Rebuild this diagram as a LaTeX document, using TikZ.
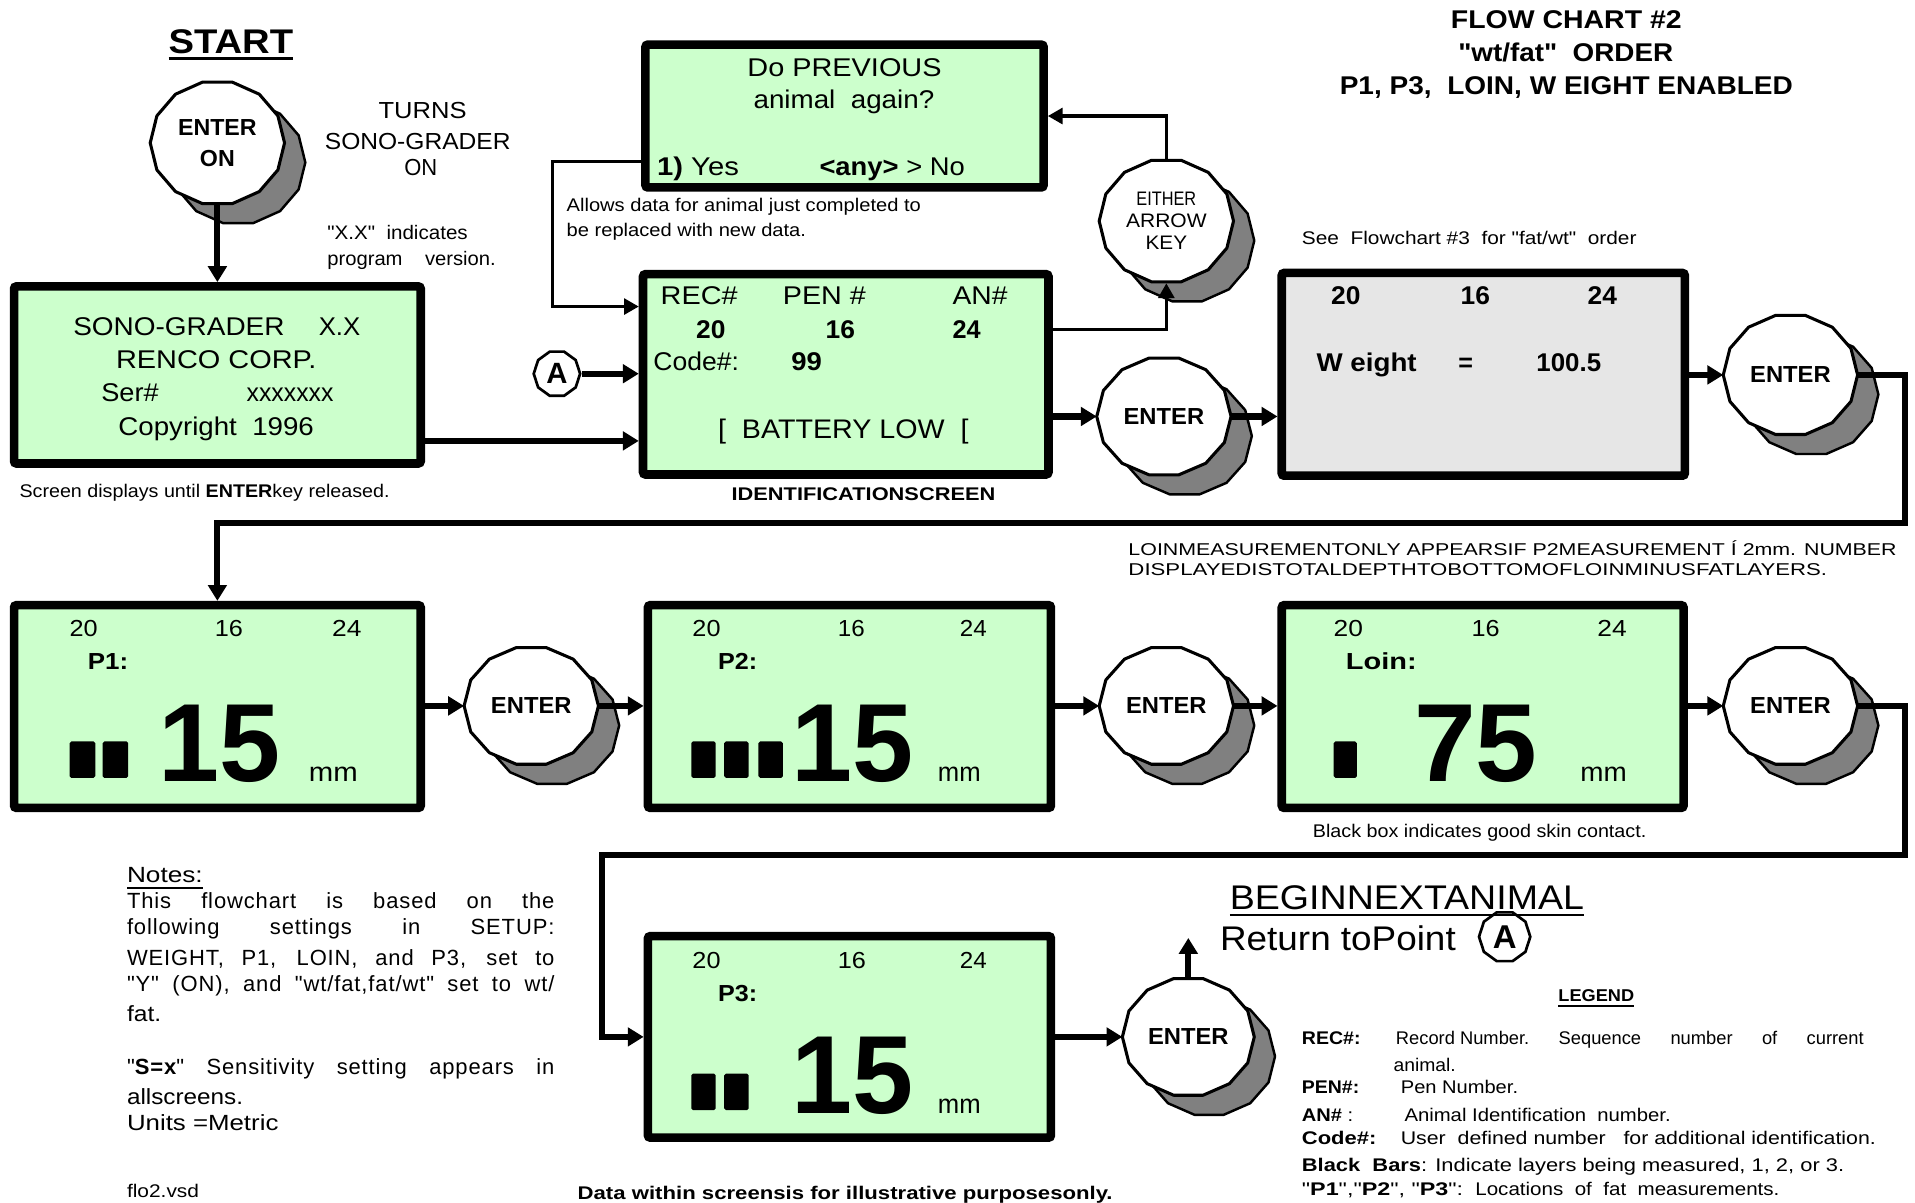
\documentclass[tikz,border=0pt]{standalone}
\usepackage{fontspec}
\setmainfont{Liberation Sans}[Ligatures=TeXOff]
\usepackage{graphicx}
\usetikzlibrary{shapes.geometric,arrows.meta}
\definecolor{scr}{HTML}{CCFFCC}
\definecolor{wgt}{HTML}{E6E6E6}
\definecolor{shad}{HTML}{808080}
\newsavebox\fitbox
\newcommand\fitx[2]{\sbox\fitbox{#2}\pgfmathsetmacro\fitr{#1/\the\wd\fitbox}\scalebox{\fitr}[1]{\usebox\fitbox}}
\newcommand\fs[1]{\fontsize{#1}{#1}\selectfont}
\tikzset{
 tx/.style={anchor=base west, inner sep=0pt, outer sep=0pt},
 screen/.style={draw=black, line width=7pt, rounded corners=2pt, inner sep=0pt, outer sep=3.5pt},
 flow/.style={line width=5pt, -{Triangle[length=13pt,width=15pt]}},
 thinflow/.style={line width=2.5pt, -{Triangle[length=12pt,width=13pt]}},
 btnst/.style={fill=white, draw=black, line width=2.5pt, line join=round},
 shadst/.style={fill=shad, draw=black, line width=2pt, line join=round},
 marker/.style={regular polygon, regular polygon sides=10, draw, line width=2.2pt, fill=white, inner sep=0pt},
 bar/.style={fill=black, rounded corners=1.5pt},
 uline/.style={line width=2pt},
}
\newcommand\tw[6]{\node[tx] (#1) at (#2,#3) {\fs{#5}\fitx{#4}{#6}};}
\newcommand\tj[6]{\node[tx] (#1) at (#2,#3) {\fs{#5}\makebox[#4pt][s]{#6}};}
\newcommand\tn[5]{\node[tx] (#1) at (#2,#3) {\fs{18}\addfontfeature{LetterSpace=4}\makebox[#4pt][s]{#5}};}
\newcommand\btn[7]{%
 \filldraw[shadst] plot[variable=\q,samples=15,domain=0:360] ({#2+17+#4*cos(\q)},{#3+16+#5*sin(\q)}) -- cycle;
 \filldraw[btnst] plot[variable=\q,samples=15,domain=0:360] ({#2+#4*cos(\q)},{#3+#5*sin(\q)}) -- cycle;
 \node[ellipse, minimum width={2*#4pt}, minimum height={2*#5pt}, inner sep=0pt, outer sep=0pt, align=center, font={#6}] (#1) at (#2,#3) {#7};}
\newcommand\ENT{\fitx{66}{\bfseries ENTER}}
\begin{document}
\begin{tikzpicture}[x=1pt,y=-1pt]
\useasboundingbox (0,0) rectangle (1568,985);
\fill[white] (0,0) rectangle (1568,985);

% screens
\node[screen, fill=scr, minimum width=333pt, minimum height=145pt] (sono) at (178,307) {};
\node[screen, fill=scr, minimum width=326pt, minimum height=117pt] (dop) at (691.5,95) {};
\node[screen, fill=scr, minimum width=332pt, minimum height=164pt] (idb) at (692.5,306.5) {};
\node[screen, fill=wgt, minimum width=330pt, minimum height=166pt] (wb) at (1214.5,306.5) {};
\node[screen, fill=scr, minimum width=333pt, minimum height=166pt] (p1) at (178,578.5) {};
\node[screen, fill=scr, minimum width=330pt, minimum height=166pt] (p2) at (695.5,578.5) {};
\node[screen, fill=scr, minimum width=329pt, minimum height=166pt] (lb) at (1214,578.5) {};
\node[screen, fill=scr, minimum width=330pt, minimum height=165pt] (p3) at (695.5,849) {};

% buttons
\btn{enteron}{178}{117}{55}{51}{\fontsize{19}{25}\selectfont\bfseries}{ENTER\\ON}
\btn{either}{955}{181}{55}{51}{\fontsize{16}{18}\selectfont}{\fitx{49}{EITHER}\\\fitx{66}{ARROW}\\\fitx{34}{KEY}}
\btn{e1}{953}{341}{55}{49}{\fs{19}}{\ENT}
\btn{e2}{1466}{307}{55}{50}{\fs{19}}{\ENT}
\btn{e3}{435}{578}{55}{49}{\fs{19}}{\ENT}
\btn{e4}{955}{578}{55}{49}{\fs{19}}{\ENT}
\btn{e5}{1466}{578}{55}{49}{\fs{19}}{\ENT}
\btn{e6}{973}{849}{54}{49}{\fs{19}}{\ENT}

% markers
\node[marker, minimum size=38pt, font=\bfseries\fs{24}] (ma1) at (456,306) {A};
\node[marker, minimum size=42pt, font=\bfseries\fs{27}] (ma2) at (1232,767) {A};

% helper coordinates
\coordinate (h361) at (0,361);
\coordinate (h270) at (0,270);
\coordinate (L1) at (452,132);
\coordinate (L2) at (452,251);
\coordinate (R1) at (1560,428);
\coordinate (R2) at (1560,700);
\coordinate (R3) at (493,700);
\coordinate (up) at (973,768);

% connectors
\draw[flow] (enteron.south) -- (sono.north);
\draw[flow] (sono.east |- h361) -- (idb.west |- h361);
\draw[flow] (ma1.east) -- (ma1.east -| idb.west);
\draw[thinflow] (dop.west |- L1) -- (L1) -- (L2) -- (L2 -| idb.west);
\draw[thinflow] (idb.east |- h270) -- (either.south |- h270) -- (either.south);
\draw[thinflow] (either.north) |- (dop.east);
\draw[flow] (idb.east |- e1.west) -- (e1.west);
\draw[flow] (e1.east) -- (e1.east -| wb.west);
\draw[flow] (wb.east |- e2.west) -- (e2.west);
\draw[flow] (e2.east) -| (R1) -- (R1 -| p1.north) -- (p1.north);
\draw[flow] (p1.east |- e3.west) -- (e3.west);
\draw[flow] (e3.east) -- (e3.east -| p2.west);
\draw[flow] (p2.east |- e4.west) -- (e4.west);
\draw[flow] (e4.east) -- (e4.east -| lb.west);
\draw[flow] (lb.east |- e5.west) -- (e5.west);
\draw[flow] (e5.east) -| (R2) -- (R3) |- (p3.west);
\draw[flow] (p3.east |- e6.west) -- (e6.west);
\draw[flow] (e6.north) -- (up);

% title
\tw{tfc}{1188}{23.5}{189}{21}{\bfseries FLOW CHART \#2}
\tw{tord}{1194}{50.5}{176}{21}{\bfseries "wt/fat"~ ORDER}
\tw{tena}{1097}{77.5}{371}{21}{\bfseries P1, P3,~ LOIN, W EIGHT ENABLED}

\tw{tstart}{138}{44}{102}{28}{\bfseries START}
\draw[uline] (138,48) -- (240,48);
\tw{tturns}{310}{97}{72}{19}{TURNS}
\tw{tsono}{266}{122}{152}{19}{SONO-GRADER}
\tw{ton}{331}{144}{27}{19}{ON}
\tw{txx}{268}{196}{115}{16}{"X.X"~ indicates}
\tw{tprog}{268}{217}{138}{16}{program~~~ version.}

% sono box
\tw{s1}{60}{274.5}{173}{21}{SONO-GRADER}
\tw{s2}{261}{274.5}{34}{21}{X.X}
\tw{s3}{95}{301.5}{164}{21}{RENCO CORP.}
\tw{s4}{83}{328.5}{47}{21}{Ser\#}
\tw{s5}{202}{328.5}{71}{21}{xxxxxxx}
\tw{s6}{97}{356.5}{160}{21}{Copyright~ 1996}
\tw{tscr}{16}{407.5}{303}{15}{Screen displays until {\bfseries ENTER}key released.}

% do previous
\tw{d1}{612}{62.5}{159}{21}{Do PREVIOUS}
\tw{d2}{617}{89}{148}{21}{animal~ again?}
\tw{d3}{538}{143.5}{67}{21}{{\bfseries 1)} Yes}
\tw{d4}{671}{143.5}{119}{21}{{\bfseries <any>} > No}
\tw{al1}{464}{173.5}{290}{15}{Allows data for animal just completed to}
\tw{al2}{464}{193.5}{196}{15}{be replaced with new data.}

% id box
\tw{i1}{541}{249.5}{63}{21}{REC\#}
\tw{i2}{641}{249.5}{68}{21}{PEN \#}
\tw{i3}{780}{249.5}{45}{21}{AN\#}
\tw{i4}{570}{277.5}{24}{21}{\bfseries 20}
\tw{i5}{676}{277.5}{24}{21}{\bfseries 16}
\tw{i6}{780}{277.5}{23}{21}{\bfseries 24}
\tw{i7}{535}{303.5}{70}{21}{Code\#:}
\tw{i8}{648}{303.5}{25}{21}{\bfseries 99}
\tw{i9}{588}{359}{205}{22}{[~ BATTERY LOW~ [}
\tw{iid}{599}{409.5}{216}{15}{\bfseries IDENTIFICATIONSCREEN}

\tw{tsee}{1066}{200.5}{274}{15}{See~ Flowchart \#3~ for "fat/wt"~ order}

% weight box
\tw{w1}{1090}{249.5}{24}{21}{\bfseries 20}
\tw{w2}{1196}{249.5}{24}{21}{\bfseries 16}
\tw{w3}{1300}{249.5}{24}{21}{\bfseries 24}
\tw{w4}{1078}{304.5}{82}{21}{\bfseries W eight}
\tw{w5}{1194}{304.5}{12}{21}{\bfseries =}
\tw{w6}{1258}{304.5}{53}{21}{\bfseries 100.5}

% loin note
\tw{ln1}{924}{455}{629}{14}{LOINMEASUREMENTONLY APPEARSIF P2MEASUREMENT Í 2mm. NUMBER}
\tw{ln2}{924}{471}{572}{14}{DISPLAYEDISTOTALDEPTHTOBOTTOMOFLOINMINUSFATLAYERS.}

% P1
\tw{a1}{57}{521}{23}{19}{20}
\tw{a2}{176}{521}{23}{19}{16}
\tw{a3}{272}{521}{24}{19}{24}
\tw{a4}{72}{548}{33}{19}{\bfseries P1:}
\tw{a5}{130}{640}{100}{91}{\bfseries 15}
\tw{a6}{253}{640}{40}{22}{mm}
\fill[bar] (57,607) rectangle (78,637);
\fill[bar] (84,607) rectangle (105,637);
% P2
\tw{b1}{567}{521}{23}{19}{20}
\tw{b2}{686}{521}{22}{19}{16}
\tw{b3}{786}{521}{22}{19}{24}
\tw{b4}{588}{548}{32}{19}{\bfseries P2:}
\tw{b5}{648}{640}{100}{91}{\bfseries 15}
\tw{b6}{768}{640}{35}{22}{mm}
\fill[bar] (566,607) rectangle (586,637);
\fill[bar] (593,607) rectangle (613,637);
\fill[bar] (621,607) rectangle (641,637);
% Loin
\tw{c1}{1092}{521}{24}{19}{20}
\tw{c2}{1205}{521}{23}{19}{16}
\tw{c3}{1308}{521}{24}{19}{24}
\tw{c4}{1102}{548}{58}{19}{\bfseries Loin:}
\tw{c5}{1158}{640}{101}{91}{\bfseries 75}
\tw{c6}{1294}{640}{38}{22}{mm}
\fill[bar] (1092,607) rectangle (1111,637);
\tw{tblk}{1075}{685.5}{273}{15}{Black box indicates good skin contact.}
% P3
\tw{f1}{567}{793}{23}{19}{20}
\tw{f2}{686}{793}{23}{19}{16}
\tw{f3}{786}{793}{22}{19}{24}
\tw{f4}{588}{820}{32}{19}{\bfseries P3:}
\tw{f5}{648}{912}{100}{91}{\bfseries 15}
\tw{f6}{768}{912}{35}{22}{mm}
\fill[bar] (566,879) rectangle (586,909);
\fill[bar] (593,879) rectangle (613,909);

% begin next animal
\tw{tbeg}{1007}{745}{290}{28}{BEGINNEXTANIMAL}
\draw[uline] (1007,749) -- (1297,749);
\tw{tret}{999}{778}{193}{28}{Return toPoint}

% notes
\tw{n0}{104}{722.5}{62}{18}{Notes:}
\draw[line width=1.5pt] (104,727) -- (166,727);
\tn{n1}{104}{744}{350}{This flowchart is based on the}
\tn{n2}{104}{765.5}{350}{following settings in SETUP:}
\tn{n3}{104}{790.5}{350}{WEIGHT, P1, LOIN, and P3, set to}
\tn{n4}{104}{812}{350}{"Y" (ON), and "wt/fat,fat/wt" set to wt/}
\tw{n5}{104}{836}{28}{18}{fat.}
\tn{n6}{104}{880}{350}{"{\bfseries S=x}" Sensitivity setting appears in}
\tw{n7}{104}{904}{95}{18}{allscreens.}
\tw{n8}{104}{926}{124}{18}{Units =Metric}

\tw{tflo}{104}{980.5}{59}{15}{flo2.vsd}
\tw{tdata}{473}{982.5}{438}{15}{\bfseries Data within screensis for illustrative purposesonly.}

% legend
\tw{lg}{1276}{820}{62}{14}{\bfseries LEGEND}
\draw[line width=1.5pt] (1276,824) -- (1338,824);
\tw{lg1}{1066}{855.5}{48}{15}{\bfseries REC\#:}
\tj{lg1b}{1143}{855.5}{383}{15}{Record Number.\hfill Sequence\hfill number\hfill of\hfill current}
\tw{lg1c}{1141}{877.5}{51}{15}{animal.}
\tw{lg2}{1066}{895.5}{47}{15}{\bfseries PEN\#:}
\tw{lg2b}{1147}{895.5}{96}{15}{Pen Number.}
\tw{lg3}{1066}{918.5}{42}{15}{{\bfseries AN\#} :}
\tw{lg3b}{1150}{918.5}{218}{15}{Animal Identification~ number.}
\tw{lg4}{1066}{937.5}{61}{15}{\bfseries Code\#:}
\tw{lg4b}{1147}{937.5}{389}{15}{User~ defined number~~ for additional identification.}
\tw{lg5}{1066}{959.5}{444}{15}{{\bfseries Black~ Bars}: Indicate layers being measured, 1, 2, or 3.}
\tw{lg6}{1066}{978.5}{132}{15}{"{\bfseries P1}","{\bfseries P2}", "{\bfseries P3}":}
\tw{lg6b}{1208}{978.5}{249}{15}{Locations~ of~ fat~ measurements.}
\end{tikzpicture}
\end{document}
